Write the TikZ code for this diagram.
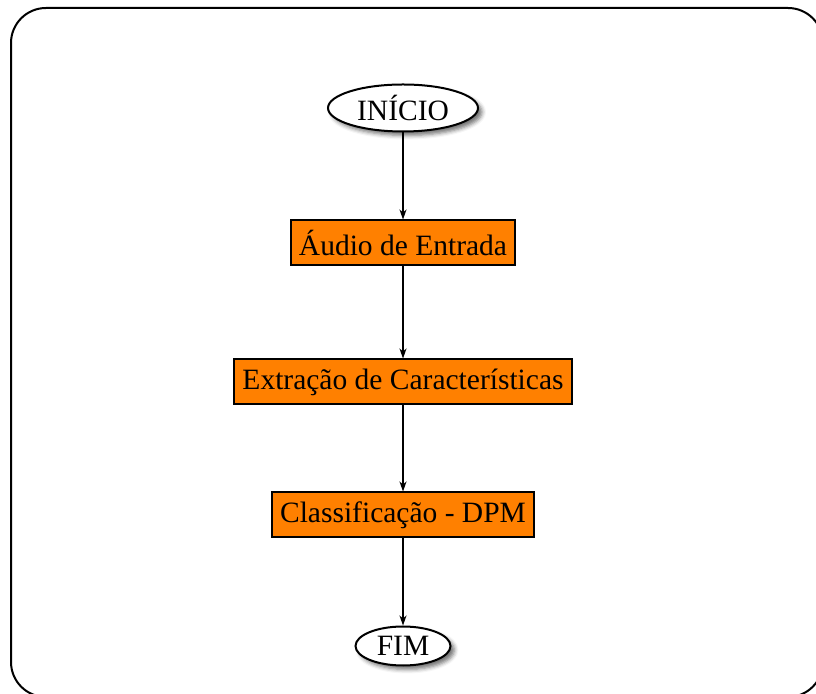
\documentclass[tikz,border=0pt]{standalone}
\usepackage{fontspec}
\setmainfont{Liberation Serif}
\usetikzlibrary{shapes.geometric,arrows.meta,shadows.blur}
\begin{document}
\begin{tikzpicture}[x=1pt,y=1pt,
  every node/.style={font=\fontsize{29.5}{34}\selectfont},
  term/.style={ellipse,draw=black,line width=2pt,fill=white,inner sep=0pt,
    blur shadow={shadow xshift=4pt,shadow yshift=-4pt,shadow blur radius=4pt,shadow opacity=55}},
  proc/.style={rectangle,draw=black,line width=2pt,fill={rgb,255:red,255;green,128;blue,0},
    minimum height=45pt,inner xsep=8pt,inner ysep=0pt},
  flow/.style={line width=1.5pt,-{Stealth[length=10pt,width=7pt,inset=3pt]}}]
\useasboundingbox (0,0) rectangle (816,693);
\draw[line width=2pt,rounded corners=35pt] (11,-4) rectangle (823,685);
\node[term,minimum width=150pt,minimum height=47pt] (inicio) at (403,585) {INÍCIO};
\node[proc] (audio) at (403,450) {Áudio de Entrada};
\node[proc] (extr) at (403,311) {Extração de Características};
\node[proc] (class) at (403,178) {Classificação - DPM};
\node[term,minimum width=95pt,minimum height=39pt] (fim) at (403,47) {FIM};
\draw[flow] (inicio) -- (audio);
\draw[flow] (audio) -- (extr);
\draw[flow] (extr) -- (class);
\draw[flow] (class) -- (fim);
\end{tikzpicture}
\end{document}
